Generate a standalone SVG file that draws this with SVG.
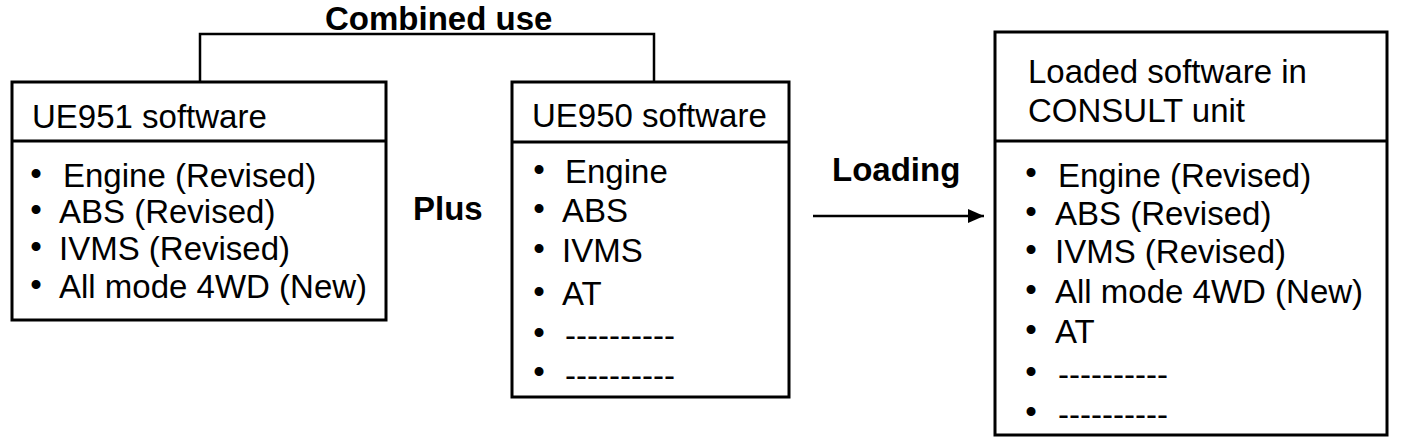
<svg xmlns="http://www.w3.org/2000/svg" width="1408" height="446" viewBox="0 0 1408 446">
<style>
text{font-family:"Liberation Sans",Arial,Helvetica,sans-serif;font-size:33px;fill:#000}
.b{font-weight:bold}
.bul{text-anchor:middle}
.box{fill:#fff;stroke:#000;stroke-width:3}
.div{stroke:#000;stroke-width:3}
.con{fill:none;stroke:#000;stroke-width:2.5}
</style>
<defs>
<marker id="ah" markerWidth="18" markerHeight="18" refX="16" refY="8" orient="auto" markerUnits="userSpaceOnUse">
<path d="M0,1 L16,8 L0,15 Z" fill="#000"/>
</marker>
</defs>
<rect width="1408" height="446" fill="#fff"/>
<g id="connectors">
<path class="con" d="M200,82 V34 H654 V82"/>
<line class="con" x1="813" y1="216" x2="984" y2="216" marker-end="url(#ah)"/>
</g>
<g id="labels">
<text class="b" x="325" y="30">Combined use</text>
<text class="b" x="413" y="220">Plus</text>
<text class="b" x="832" y="181">Loading</text>
</g>
<g id="ue951">
<rect class="box" x="12" y="82" width="374" height="238"/>
<line class="div" x1="12" y1="141" x2="386" y2="141"/>
<text x="32" y="128">UE951 software</text>
<text class="bul" x="36" y="185">•</text><text x="63" y="187">Engine (Revised)</text>
<text class="bul" x="36" y="221">•</text><text x="59" y="223">ABS (Revised)</text>
<text class="bul" x="36" y="258">•</text><text x="59" y="260">IVMS (Revised)</text>
<text class="bul" x="36" y="296">•</text><text x="59" y="298">All mode 4WD (New)</text>
</g>
<g id="ue950">
<rect class="box" x="512" y="82" width="277" height="315"/>
<line class="div" x1="512" y1="142" x2="789" y2="142"/>
<text x="532" y="127">UE950 software</text>
<text class="bul" x="539" y="181">•</text><text x="565" y="183">Engine</text>
<text class="bul" x="539" y="220">•</text><text x="562" y="222">ABS</text>
<text class="bul" x="539" y="260">•</text><text x="562" y="262">IVMS</text>
<text class="bul" x="539" y="303">•</text><text x="562" y="305">AT</text>
<text class="bul" x="539" y="344">•</text><text x="565" y="347">----------</text>
<text class="bul" x="539" y="383">•</text><text x="565" y="387">----------</text>
</g>
<g id="consult">
<rect class="box" x="995" y="32" width="392" height="403"/>
<line class="div" x1="995" y1="141" x2="1387" y2="141"/>
<text x="1028" y="83">Loaded software in</text>
<text x="1028" y="122">CONSULT unit</text>
<text class="bul" x="1031" y="184">•</text><text x="1058" y="187">Engine (Revised)</text>
<text class="bul" x="1031" y="223">•</text><text x="1055" y="225">ABS (Revised)</text>
<text class="bul" x="1031" y="261">•</text><text x="1055" y="263">IVMS (Revised)</text>
<text class="bul" x="1031" y="301">•</text><text x="1055" y="303">All mode 4WD (New)</text>
<text class="bul" x="1031" y="341">•</text><text x="1055" y="343">AT</text>
<text class="bul" x="1031" y="383">•</text><text x="1058" y="386">----------</text>
<text class="bul" x="1031" y="423">•</text><text x="1058" y="426">----------</text>
</g>
</svg>
